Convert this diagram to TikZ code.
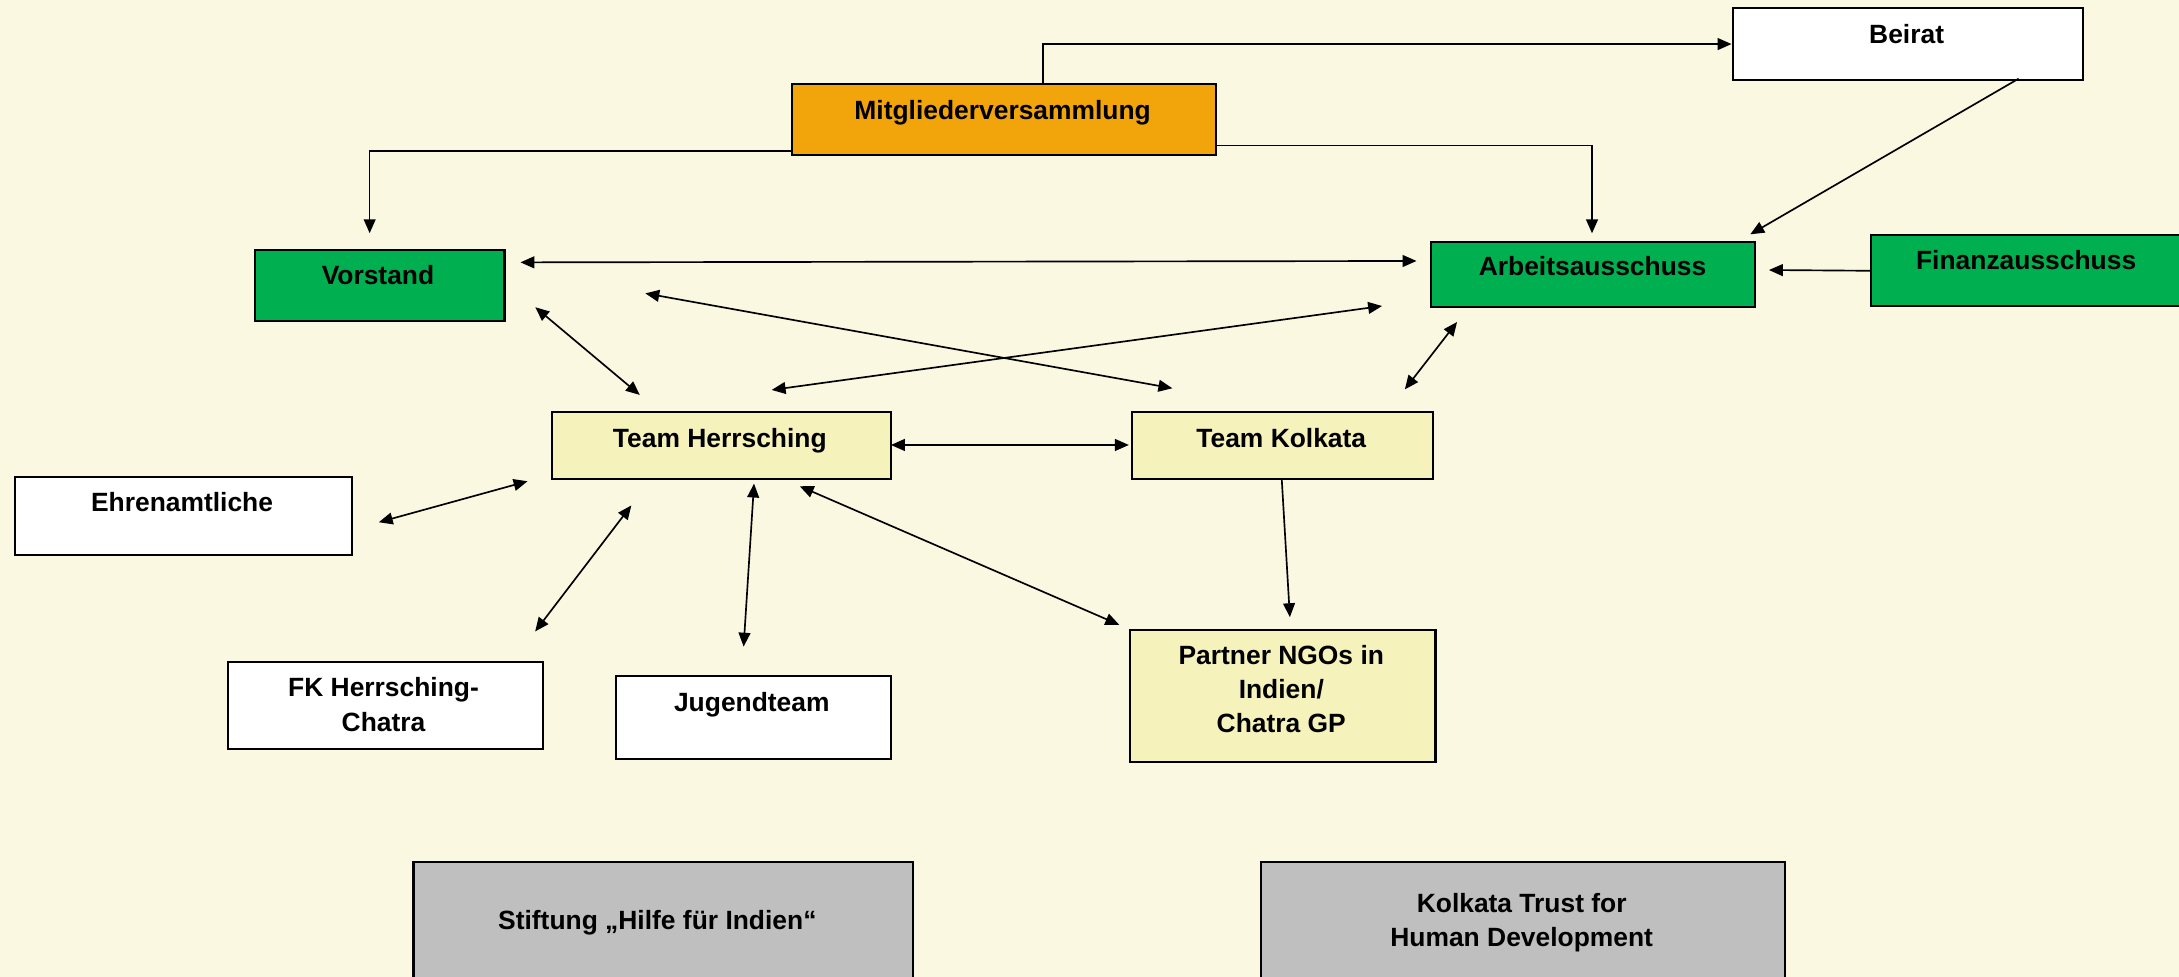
\documentclass[tikz,border=0pt]{standalone}
\usepackage{fontspec}
\setmainfont{Liberation Sans}
\usetikzlibrary{arrows.meta}
\definecolor{bgc}{RGB}{250,248,224}
\definecolor{orangec}{RGB}{242,165,10}
\definecolor{greenc}{RGB}{0,176,80}
\definecolor{yellowc}{RGB}{245,243,187}
\definecolor{grayc}{RGB}{191,191,191}
\tikzset{
  box/.style={draw=black, line width=1.5pt, anchor=north west, inner sep=0pt},
  lbl/.style={font=\bfseries\fontsize{19}{24.5}\selectfont, align=center, inner sep=0pt},
  arr/.style={line width=1.2pt, -{Triangle[length=10pt,width=8.5pt]}},
  darr/.style={line width=1.2pt, {Triangle[length=10pt,width=8.5pt]}-{Triangle[length=10pt,width=8.5pt]}}
}
\begin{document}
\begin{tikzpicture}[x=1pt,y=-1pt]
\useasboundingbox (0,0) rectangle (1568,703);
\clip (0,0) rectangle (1568,703);
\fill[bgc] (0,0) rectangle (1568,703);
% boxes
\node[box, fill=orangec, minimum width=305pt, minimum height=51pt] (mv) at (569,60) {};
\node[box, fill=white, minimum width=252pt, minimum height=51.3pt] (beirat) at (1246,5.3) {};
\node[box, fill=greenc, minimum width=179.3pt, minimum height=51.3pt] (vor) at (183,179) {};
\node[box, fill=greenc, minimum width=233.7pt, minimum height=46.8pt] (arb) at (1028.7,173.2) {};
\node[box, fill=greenc, minimum width=255pt, minimum height=51pt] (fin) at (1345.6,168.6) {};
\node[box, fill=yellowc, minimum width=243.8pt, minimum height=48.5pt] (th) at (396.3,295.7) {};
\node[box, fill=yellowc, minimum width=216.9pt, minimum height=48.5pt] (tk) at (813.8,295.7) {};
\node[box, fill=white, minimum width=242.3pt, minimum height=55.6pt] (ehr) at (10.1,342.7) {};
\node[box, fill=white, minimum width=226.7pt, minimum height=62.2pt] (fk) at (163,475.7) {};
\node[box, fill=white, minimum width=197.9pt, minimum height=59.7pt] (jug) at (442.2,485.4) {};
\node[box, fill=yellowc, minimum width=219.9pt, minimum height=94.5pt] (pn) at (812.3,452.8) {};
\node[box, fill=grayc, minimum width=359.5pt, minimum height=100pt] (stf) at (296.8,619.4) {};
\node[box, fill=grayc, minimum width=377.3pt, minimum height=100pt] (kt) at (906.4,619.8) {};
% labels
\node[lbl, anchor=base] (mvT) at (721.5,86) {Mitgliederversammlung};
\node[lbl, anchor=base] (beiratT) at (1372,31) {Beirat};
\node[lbl, anchor=base] (vorT) at (272,205) {Vorstand};
\node[lbl, anchor=base] (arbT) at (1146,198) {Arbeitsausschuss};
\node[lbl, anchor=base] (finT) at (1458,194) {Finanzausschuss};
\node[lbl, anchor=base] (thT) at (518,322) {Team Herrsching};
\node[lbl, anchor=base] (tkT) at (922,322) {Team Kolkata};
\node[lbl, anchor=base] (ehrT) at (131,368) {Ehrenamtliche};
\node[lbl] (fkT) at (276,507) {FK Herrsching-\\Chatra};
\node[lbl, anchor=base] (jugT) at (541,512) {Jugendteam};
\node[lbl] (pnT) at (922,496) {Partner NGOs in\\Indien/\\Chatra GP};
\node[lbl, anchor=base] (stfT) at (473,669) {Stiftung „Hilfe für Indien“};
\node[lbl] (ktT) at (1095,664) {Kolkata Trust for\\Human Development};
% connector end points
\coordinate (a1) at (569,108.9);
\coordinate (a1e) at (266,167.8);
\coordinate (a2) at (750.6,60);
\coordinate (a3) at (874.2,104.8);
\coordinate (a3e) at (1145.6,167.9);
\coordinate (a4) at (1452.6,56.6);
\coordinate (a4e) at (1259.5,168.6);
\coordinate (a5e) at (1272.9,194.3);
\coordinate (b1) at (374.5,188.8);
\coordinate (b1e) at (1019.3,187.8);
\coordinate (b2) at (385.2,221.1);
\coordinate (b2e) at (460.4,284.2);
\coordinate (b3) at (464.4,211.1);
\coordinate (b3e) at (843.6,279.4);
\coordinate (b4) at (555.3,280.6);
\coordinate (b4e) at (994.5,220.2);
\coordinate (b5) at (1048.5,231.7);
\coordinate (b5e) at (1010.9,280.2);
\coordinate (b6) at (641.1,320.2);
\coordinate (b6e) at (812.3,320.2);
\coordinate (c1) at (272.6,375.8);
\coordinate (c1e) at (379.6,346.3);
\coordinate (c2) at (454.3,363.7);
\coordinate (c2e) at (385.1,454.4);
\coordinate (c3) at (542.6,348);
\coordinate (c3e) at (535.1,465.3);
\coordinate (c4) at (575.5,349.9);
\coordinate (c4e) at (805.4,449.6);
\coordinate (c5) at (922.3,344.2);
\coordinate (c5e) at (928.2,444.1);
% connectors
\draw[arr] (a1) -| (a1e);
\draw[arr] (a2) |- (beirat.west);
\draw[arr] (a3) -| (a3e);
\draw[arr] (a4) -- (a4e);
\draw[arr] (fin.west) -- (a5e);
\draw[darr] (b1) -- (b1e);
\draw[darr] (b2) -- (b2e);
\draw[darr] (b3) -- (b3e);
\draw[darr] (b4) -- (b4e);
\draw[darr] (b5) -- (b5e);
\draw[darr] (b6) -- (b6e);
\draw[darr] (c1) -- (c1e);
\draw[darr] (c2) -- (c2e);
\draw[darr] (c3) -- (c3e);
\draw[darr] (c4) -- (c4e);
\draw[arr] (c5) -- (c5e);
\end{tikzpicture}
\end{document}
